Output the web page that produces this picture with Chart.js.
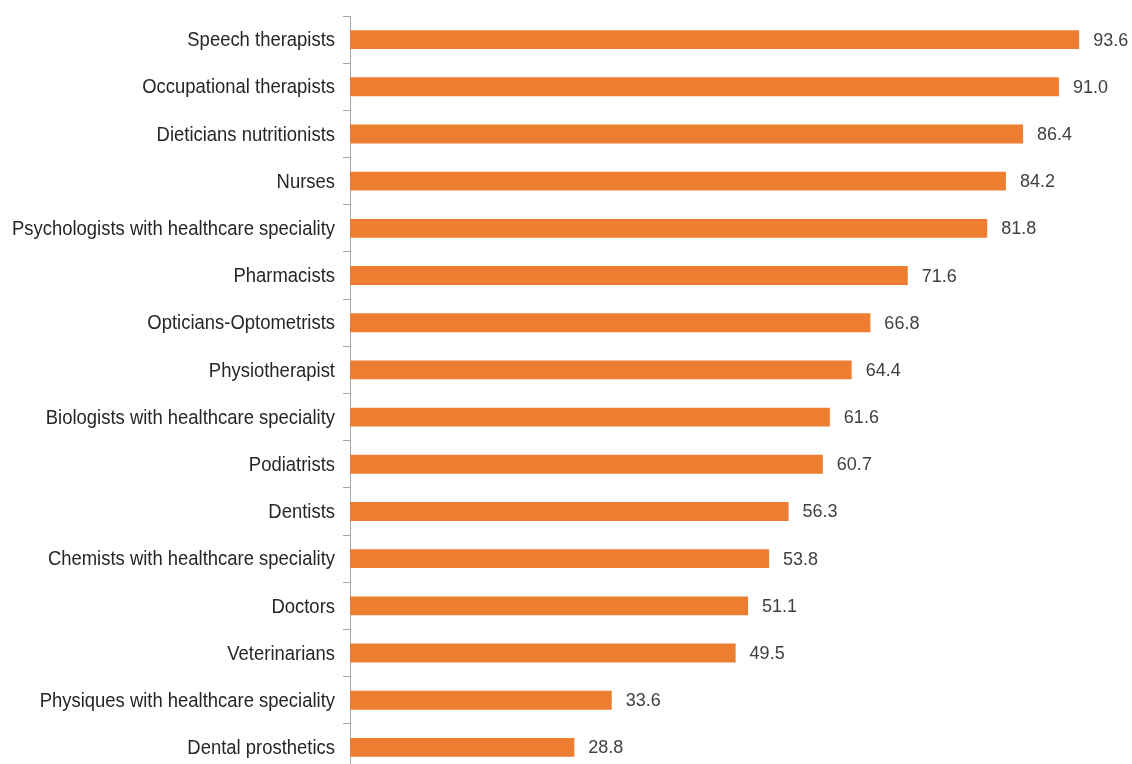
<!DOCTYPE html>
<html>
<head>
<meta charset="utf-8">
<script src="https://cdn.jsdelivr.net/npm/chart.js@4/dist/chart.umd.min.js"></script>
<style>
  html, body { margin: 0; padding: 0; background: #fff; overflow: hidden; }
  #wrap { width: 1132px; height: 771px; }
</style>
</head>
<body>
<div id="wrap"><canvas id="myChart"></canvas></div>
<script>
var professions = [
  "Speech therapists",
  "Occupational therapists",
  "Dieticians nutritionists",
  "Nurses",
  "Psychologists with healthcare speciality",
  "Pharmacists",
  "Opticians-Optometrists",
  "Physiotherapist",
  "Biologists with healthcare speciality",
  "Podiatrists",
  "Dentists",
  "Chemists with healthcare speciality",
  "Doctors",
  "Veterinarians",
  "Physiques with healthcare speciality",
  "Dental prosthetics"
];
var shares = [93.6, 91.0, 86.4, 84.2, 81.8, 71.6, 66.8, 64.4, 61.6, 60.7, 56.3, 53.8, 51.1, 49.5, 33.6, 28.8];

var fontFamily = "'Liberation Sans', Arial, sans-serif";

// writes the value just right of each bar
var valueLabels = {
  id: 'valueLabels',
  afterDatasetsDraw(chart) {
    var ctx = chart.ctx;
    var meta = chart.getDatasetMeta(0);
    ctx.save();
    ctx.font = "18px " + fontFamily;
    ctx.fillStyle = "#404040";
    ctx.textAlign = "left";
    ctx.textBaseline = "middle";
    meta.data.forEach((bar, i) => {
      ctx.fillText(shares[i].toFixed(1), bar.x + 14, bar.y + 1);
    });
    ctx.restore();
  }
};

// category names, drawn a bit condensed like the original narrow font
var narrowLabels = {
  id: 'narrowLabels',
  afterDraw(chart) {
    var ctx = chart.ctx;
    var y = chart.scales.y;
    ctx.save();
    ctx.font = "20.5px " + fontFamily;
    ctx.fillStyle = "#262626";
    ctx.textAlign = "right";
    ctx.textBaseline = "middle";
    y.ticks.forEach((t, i) => {
      ctx.save();
      ctx.translate(y.right - 15, y.getPixelForTick(i) + 1);
      ctx.scale(0.9, 1);
      ctx.fillText(professions[i], 0, 0);
      ctx.restore();
    });
    ctx.restore();
  }
};

new Chart(document.getElementById("myChart"), {
  type: 'bar',
  data: {
    labels: professions,
    datasets: [
      {
        data: shares,
        backgroundColor: "#ED7D31",
        borderWidth: 0,
        categoryPercentage: 1.0,
        barPercentage: 0.4,
      },
    ],
  },
  plugins: [valueLabels, narrowLabels],
  options: {
    indexAxis: 'y',
    responsive: true,
    maintainAspectRatio: false,
    animation: false,
    layout: { padding: { top: 16, right: 3, bottom: 0, left: 0 } },
    plugins: {
      legend: { display: false },
      tooltip: { enabled: false },
    },
    scales: {
      x: {
        display: false,
        min: 0,
        max: 100,
      },
      y: {
        offset: true,
        afterFit: (scale) => { scale.width = 350; },
        border: { color: "#a6a6a6", width: 1 },
        grid: {
          offset: true,
          drawOnChartArea: false,
          drawTicks: true,
          tickLength: 7,
          color: "#a6a6a6",
        },
        ticks: {
          display: false,
          autoSkip: false,
        },
      },
    },
  },
});
</script>
</body>
</html>
